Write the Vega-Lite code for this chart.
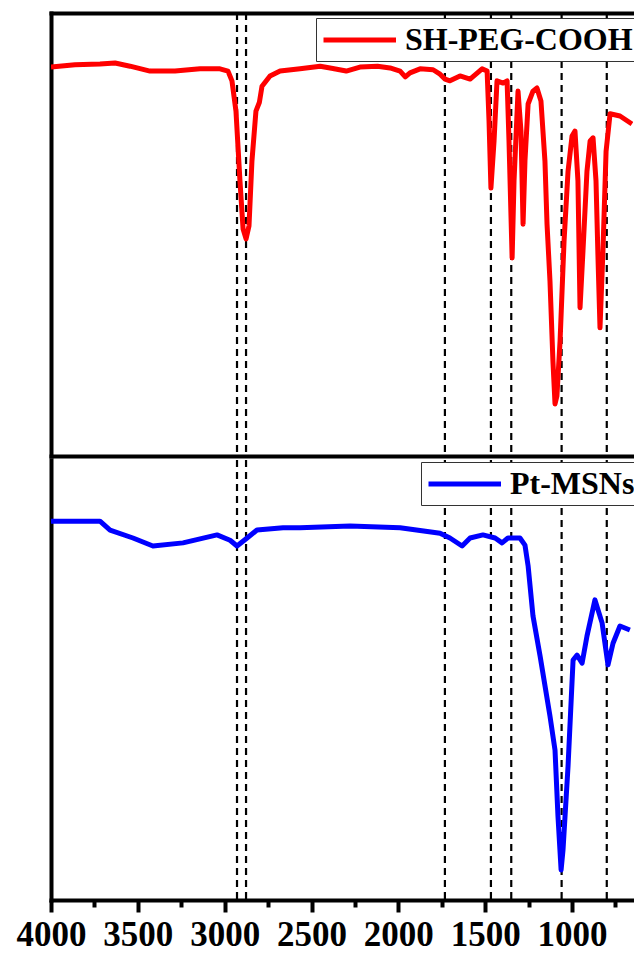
{
  "$schema": "https://vega.github.io/schema/vega-lite/v6.json",
  "padding": {"left": 16, "top": 11, "right": 0, "bottom": 0},
  "background": "white",
  "spacing": 0,
  "config": {
    "view": {"stroke": null},
    "axis": {"grid": false, "domainColor": "black", "domainWidth": 4, "domainCap": "square", "title": null},
    "legend": {"strokeColor": "#333333", "fillColor": "white", "padding": 5, "symbolType": "M-1,0H4", "symbolSize": 841, "symbolStrokeWidth": 5, "labelFont": "Liberation Serif", "labelFontWeight": "bold", "labelFontSize": 32, "labelColor": "black", "labelOffset": 50, "labelLimit": 400, "title": null, "cornerRadius": 0}
  },
  "datasets": {
    "peaks": [{"wn": 2929}, {"wn": 2877}, {"wn": 1732}, {"wn": 1467}, {"wn": 1350}, {"wn": 1060}, {"wn": 800}],
    "peg": [
      {"wn": 4000, "t": 87.4}, {"wn": 3862, "t": 87.9}, {"wn": 3718, "t": 88.1}, {"wn": 3631, "t": 88.3},
      {"wn": 3545, "t": 87.6}, {"wn": 3430, "t": 86.5}, {"wn": 3286, "t": 86.5}, {"wn": 3142, "t": 87.0},
      {"wn": 3027, "t": 87.0}, {"wn": 2981, "t": 86.5}, {"wn": 2958, "t": 84.3}, {"wn": 2935, "t": 77.5},
      {"wn": 2912, "t": 61.8}, {"wn": 2894, "t": 51.0}, {"wn": 2877, "t": 48.8}, {"wn": 2860, "t": 51.7},
      {"wn": 2843, "t": 66.3}, {"wn": 2820, "t": 77.5}, {"wn": 2800, "t": 79.5}, {"wn": 2785, "t": 83.1}, {"wn": 2739, "t": 85.4},
      {"wn": 2681, "t": 86.5}, {"wn": 2566, "t": 87.0}, {"wn": 2450, "t": 87.6}, {"wn": 2393, "t": 87.2}, {"wn": 2300, "t": 86.5}, {"wn": 2221, "t": 87.4},
      {"wn": 2120, "t": 87.6}, {"wn": 2048, "t": 87.2}, {"wn": 1990, "t": 86.5}, {"wn": 1960, "t": 85.2}, {"wn": 1933, "t": 86.1}, {"wn": 1875, "t": 87.0},
      {"wn": 1800, "t": 86.8}, {"wn": 1760, "t": 85.8}, {"wn": 1731, "t": 84.7}, {"wn": 1703, "t": 84.3}, {"wn": 1645, "t": 85.4},
      {"wn": 1587, "t": 84.7}, {"wn": 1518, "t": 87.0}, {"wn": 1489, "t": 86.5}, {"wn": 1478, "t": 75.3},
      {"wn": 1467, "t": 60.2}, {"wn": 1449, "t": 70.8}, {"wn": 1432, "t": 84.3}, {"wn": 1397, "t": 83.8},
      {"wn": 1374, "t": 84.3}, {"wn": 1363, "t": 70.8}, {"wn": 1345, "t": 44.5}, {"wn": 1334, "t": 61.8},
      {"wn": 1311, "t": 82.0}, {"wn": 1294, "t": 73.0}, {"wn": 1282, "t": 52.1}, {"wn": 1271, "t": 66.3},
      {"wn": 1253, "t": 79.1}, {"wn": 1225, "t": 82.0}, {"wn": 1202, "t": 82.7}, {"wn": 1179, "t": 79.8},
      {"wn": 1156, "t": 66.3}, {"wn": 1144, "t": 52.1}, {"wn": 1127, "t": 39.3}, {"wn": 1110, "t": 21.3},
      {"wn": 1098, "t": 11.7}, {"wn": 1087, "t": 13.5}, {"wn": 1069, "t": 25.8}, {"wn": 1046, "t": 48.3},
      {"wn": 1023, "t": 64.0}, {"wn": 1000, "t": 71.9}, {"wn": 983, "t": 73.0}, {"wn": 966, "t": 61.8},
      {"wn": 954, "t": 33.3}, {"wn": 937, "t": 46.1}, {"wn": 914, "t": 64.0}, {"wn": 896, "t": 70.8},
      {"wn": 879, "t": 71.5}, {"wn": 862, "t": 61.8}, {"wn": 850, "t": 43.8}, {"wn": 839, "t": 28.8},
      {"wn": 822, "t": 46.1}, {"wn": 804, "t": 68.5}, {"wn": 781, "t": 76.9}, {"wn": 724, "t": 76.4},
      {"wn": 655, "t": 74.6}
    ],
    "msn": [
      {"wn": 4000, "t": 85.7}, {"wn": 3718, "t": 85.7}, {"wn": 3660, "t": 83.7}, {"wn": 3528, "t": 81.9},
      {"wn": 3413, "t": 80.1}, {"wn": 3240, "t": 80.8}, {"wn": 3044, "t": 82.6}, {"wn": 2969, "t": 81.4},
      {"wn": 2929, "t": 80.1}, {"wn": 2871, "t": 81.9}, {"wn": 2814, "t": 83.7}, {"wn": 2664, "t": 84.2},
      {"wn": 2566, "t": 84.2}, {"wn": 2278, "t": 84.6}, {"wn": 1990, "t": 84.2}, {"wn": 1760, "t": 83.0},
      {"wn": 1703, "t": 81.9}, {"wn": 1633, "t": 80.1}, {"wn": 1587, "t": 81.9}, {"wn": 1513, "t": 82.6},
      {"wn": 1443, "t": 81.9}, {"wn": 1403, "t": 80.8}, {"wn": 1369, "t": 81.9}, {"wn": 1300, "t": 81.9},
      {"wn": 1271, "t": 80.3}, {"wn": 1253, "t": 75.6}, {"wn": 1225, "t": 64.3}, {"wn": 1184, "t": 55.2},
      {"wn": 1127, "t": 41.6}, {"wn": 1098, "t": 33.9}, {"wn": 1081, "t": 19.0}, {"wn": 1063, "t": 6.8},
      {"wn": 1052, "t": 11.3}, {"wn": 1023, "t": 30.3}, {"wn": 994, "t": 54.3}, {"wn": 971, "t": 55.4},
      {"wn": 942, "t": 53.6}, {"wn": 914, "t": 59.7}, {"wn": 868, "t": 67.9}, {"wn": 827, "t": 62.7},
      {"wn": 793, "t": 53.2}, {"wn": 764, "t": 58.1}, {"wn": 724, "t": 62.0}, {"wn": 667, "t": 61.1}
    ]
  },
  "vconcat": [
    {
      "width": 582,
      "height": 443,
      "layer": [
        {
          "data": {"name": "peaks"},
          "mark": {"type": "rule", "color": "black", "strokeWidth": 2.2, "strokeDash": [7, 5]},
          "encoding": {
            "x": {"field": "wn", "type": "quantitative", "scale": {"domain": [649, 4000], "reverse": true, "nice": false, "zero": false},
                  "axis": {"orient": "top", "ticks": false, "labels": false}}
          }
        },
        {
          "data": {"name": "peg"},
          "mark": {"type": "line", "strokeWidth": 5, "strokeJoin": "round", "clip": true},
          "encoding": {
            "x": {"field": "wn", "type": "quantitative", "scale": {"domain": [649, 4000], "reverse": true, "nice": false, "zero": false},
                  "axis": {"orient": "bottom", "ticks": false, "labels": false}},
            "y": {"field": "t", "type": "quantitative", "scale": {"domain": [0, 99.55], "nice": false, "zero": false},
                  "axis": {"ticks": false, "labels": false}},
            "color": {"datum": "SH-PEG-COOH", "type": "nominal", "scale": {"range": ["#ff0000"]},
                      "legend": {"orient": "none", "legendX": 265, "legendY": 5}}
          }
        }
      ],
      "resolve": {"axis": {"x": "independent"}}
    },
    {
      "width": 582,
      "height": 440,
      "layer": [
        {
          "data": {"name": "peaks"},
          "mark": {"type": "rule", "color": "black", "strokeWidth": 2.2, "strokeDash": [7, 5]},
          "encoding": {
            "x": {"field": "wn", "type": "quantitative", "scale": {"domain": [649, 4000], "reverse": true, "nice": false, "zero": false}}
          }
        },
        {
          "data": {"name": "msn"},
          "mark": {"type": "line", "strokeWidth": 5, "strokeJoin": "round", "clip": true},
          "encoding": {
            "x": {"field": "wn", "type": "quantitative", "scale": {"domain": [649, 4000], "reverse": true, "nice": false, "zero": false},
                  "axis": {"orient": "bottom", "values": [750, 1000, 1250, 1500, 1750, 2000, 2250, 2500, 2750, 3000, 3250, 3500, 3750, 4000],
                           "format": "d", "labelExpr": "datum.value % 500 === 0 ? datum.label : ''", "labelOverlap": false,
                           "tickColor": "black", "tickWidth": 4,
                           "tickSize": {"condition": {"test": "datum.value % 500 === 0", "value": 12}, "value": 7},
                           "labelFont": "Liberation Serif", "labelFontWeight": "bold", "labelFontSize": 35, "labelColor": "black", "labelPadding": 5, "labelFlush": false}},
            "y": {"field": "t", "type": "quantitative", "scale": {"domain": [0, 99.55], "nice": false, "zero": false},
                  "axis": {"ticks": false, "labels": false}},
            "color": {"datum": "Pt-MSNs", "type": "nominal", "scale": {"range": ["#0000ff"]},
                      "legend": {"orient": "none", "legendX": 370, "legendY": 2}}
          }
        }
      ]
    }
  ],
  "resolve": {"scale": {"color": "independent"}, "legend": {"color": "independent"}}
}
